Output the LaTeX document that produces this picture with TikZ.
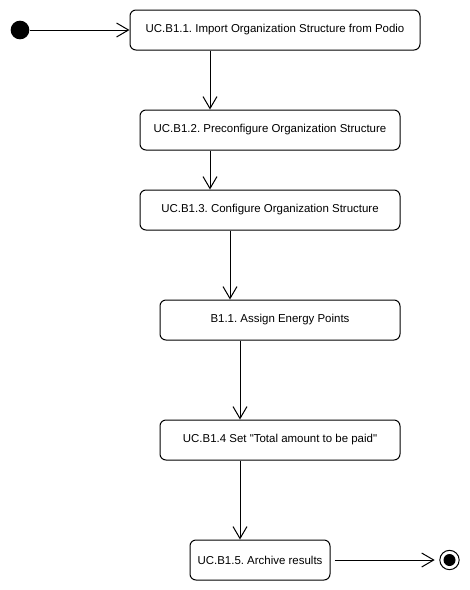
\documentclass[tikz,border=0pt]{standalone}
\usepackage{fontspec}
\setmainfont{Liberation Sans}
\usetikzlibrary{arrows.meta}
\frenchspacing

\tikzset{
  action/.style={draw, rounded corners=4.5pt, line width=0.75pt, minimum height=30pt,
    inner sep=0.75pt, align=center, font=\fontsize{8.6}{10}\selectfont},
  flow/.style={line width=0.75pt, -{Straight Barb[length=9pt,width=10.5pt,line width=0.75pt]}}
}

\begin{document}
\begin{tikzpicture}[x=0.75pt,y=0.75pt,yscale=-1,xscale=1]
\useasboundingbox (0,0) rectangle (470,590);

% Initial Node
\node [circle, fill=black, inner sep=0pt, minimum size=14pt] (start) at (20,30) {};
% Final Node
\node [circle, draw, line width=0.75pt, inner sep=0pt, minimum size=14.5pt] (stop) at (449.5,560) {};
\node [circle, fill=black, inner sep=0pt, minimum size=9pt] at (stop) {};

% Action Nodes
\node [action, minimum width=217.5pt] (import) at (275,30) {UC.B1.1. Import Organization Structure from Podio};
\node [action, minimum width=195pt] (preconf) at (270,130) {UC.B1.2. Preconfigure Organization Structure};
\node [action, minimum width=195pt] (conf) at (270,210) {UC.B1.3. Configure Organization Structure};
\node [action, minimum width=180pt] (assign) at (280,320) {B1.1. Assign Energy Points};
\node [action, minimum width=180pt] (total) at (280,440) {UC.B1.4 Set \textquotedbl Total amount to be paid\textquotedbl};
\node [action, minimum width=105pt] (archive) at (260,560) {UC.B1.5. Archive results};

% Columns of the vertical flows
\coordinate (c1) at (210,0);
\coordinate (c2) at (230,0);
\coordinate (c3) at (240,0);

% Flows
\draw [flow] (start) -- (import);
\draw [flow] (import.south -| c1) -- (preconf.north -| c1);
\draw [flow] (preconf.south -| c1) -- (conf.north -| c1);
\draw [flow] (conf.south -| c2) -- (assign.north -| c2);
\draw [flow] (assign.south -| c3) -- (total.north -| c3);
\draw [flow] (total.south -| c3) -- (archive.north -| c3);
\draw [flow, shorten <=3pt, shorten >=3.5pt] (archive) -- (stop);

\end{tikzpicture}
\end{document}
